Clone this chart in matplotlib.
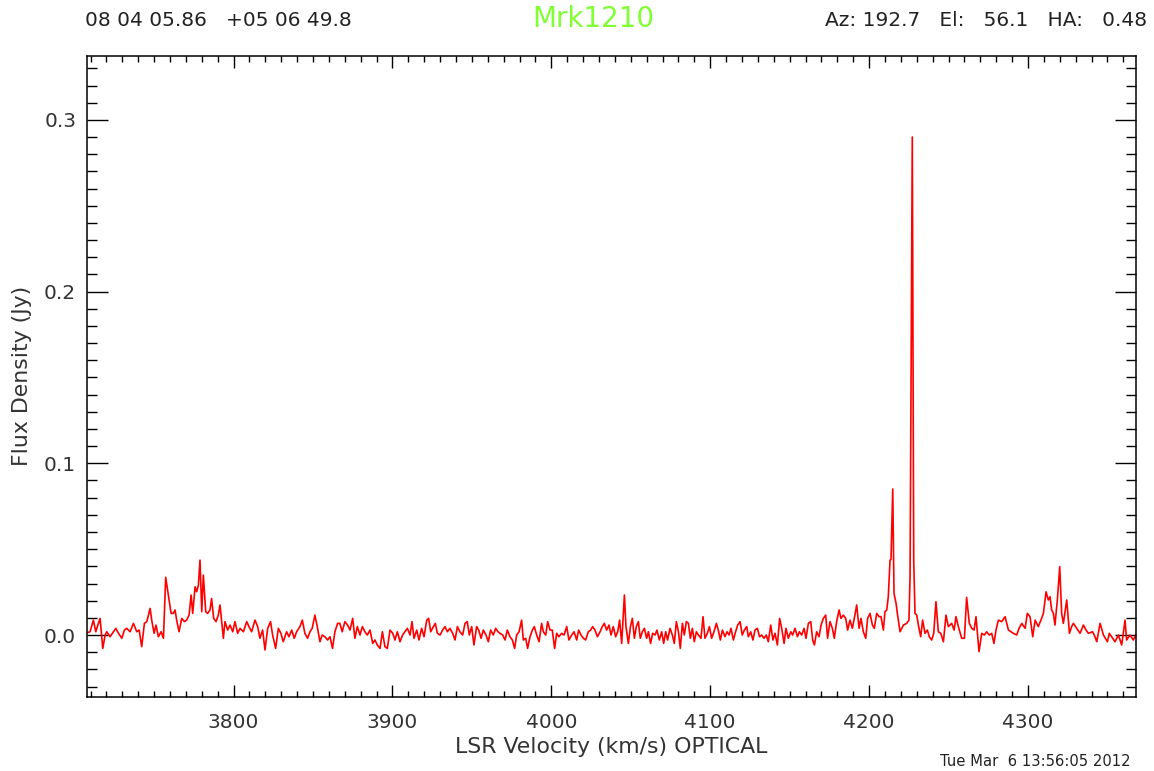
import numpy as np
import matplotlib.pyplot as plt
from matplotlib.ticker import MultipleLocator

# spectrum: LSR velocity (km/s) and flux density (mJy)
velocity = [
    3706.6, 3709.7, 3711.8, 3713.3, 3714.6, 3716.0, 3717.7, 3719.2, 3720.2, 3722.3,
    3724.4, 3725.9, 3727.6, 3729.7, 3731.3, 3732.8, 3734.9, 3737.0, 3739.1, 3740.6,
    3742.2, 3743.9, 3745.4, 3747.5, 3748.5, 3750.0, 3751.2, 3752.7, 3754.4, 3755.9,
    3757.3, 3759.4, 3760.7, 3762.1, 3763.2, 3764.2, 3765.7, 3767.4, 3769.1, 3770.5,
    3772.0, 3773.3, 3774.3, 3775.8, 3776.8, 3777.9, 3778.9, 3780.0, 3781.0, 3782.5,
    3783.7, 3785.2, 3786.2, 3787.5, 3789.0, 3790.4, 3791.5, 3793.6, 3794.6, 3796.3,
    3797.8, 3799.5, 3800.9, 3802.6, 3804.1, 3806.2, 3808.3, 3809.7, 3811.4, 3813.5,
    3815.2, 3816.6, 3818.3, 3819.8, 3821.5, 3823.3, 3824.6, 3826.5, 3828.2, 3829.8,
    3831.3, 3833.4, 3834.9, 3836.6, 3838.2, 3839.7, 3841.8, 3843.3, 3844.9, 3846.6,
    3848.1, 3849.5, 3851.2, 3852.7, 3854.4, 3855.8, 3857.5, 3859.2, 3860.7, 3862.3,
    3863.8, 3865.5, 3866.9, 3868.4, 3870.1, 3871.8, 3873.3, 3875.0, 3876.4, 3877.9,
    3879.6, 3881.1, 3882.7, 3884.2, 3885.9, 3887.6, 3889.0, 3890.5, 3892.2, 3893.7,
    3895.3, 3896.8, 3898.5, 3900.2, 3901.6, 3903.1, 3904.8, 3906.4, 3907.9, 3909.4,
    3911.1, 3912.3, 3913.6, 3915.3, 3916.7, 3918.4, 3919.9, 3921.6, 3922.8, 3924.1,
    3925.8, 3927.0, 3928.3, 3930.0, 3931.6, 3933.1, 3934.6, 3936.2, 3937.9, 3939.4,
    3940.9, 3942.5, 3944.2, 3945.7, 3947.1, 3948.4, 3949.9, 3951.3, 3953.0, 3954.3,
    3955.8, 3957.2, 3958.9, 3960.4, 3961.8, 3963.5, 3965.0, 3966.5, 3967.7, 3969.4,
    3970.9, 3972.3, 3974.0, 3975.5, 3976.9, 3978.2, 3979.7, 3981.3, 3982.4, 3983.9,
    3985.1, 3986.6, 3988.1, 3989.3, 3990.8, 3992.3, 3993.9, 3995.0, 3996.5, 3997.7,
    3999.2, 4000.6, 4002.1, 4003.4, 4004.8, 4006.5, 4008.0, 4009.7, 4011.1, 4012.8,
    4014.3, 4016.0, 4017.2, 4018.7, 4020.2, 4021.6, 4023.3, 4024.8, 4026.0, 4027.5,
    4029.0, 4030.7, 4032.1, 4033.4, 4034.8, 4036.3, 4037.6, 4039.0, 4040.5, 4041.8,
    4043.0, 4044.3, 4046.0, 4047.0, 4048.5, 4049.8, 4051.0, 4052.3, 4053.5, 4054.8,
    4056.0, 4057.3, 4058.6, 4060.0, 4061.1, 4062.5, 4063.8, 4065.3, 4066.5, 4068.0,
    4069.5, 4070.7, 4072.0, 4073.2, 4074.7, 4076.2, 4077.4, 4078.7, 4080.0, 4081.2,
    4082.5, 4083.7, 4085.0, 4086.3, 4087.5, 4088.8, 4090.0, 4091.3, 4092.6, 4094.2,
    4095.5, 4096.7, 4098.2, 4099.5, 4100.9, 4102.4, 4103.9, 4105.1, 4106.4, 4107.7,
    4109.3, 4110.6, 4111.9, 4113.1, 4114.6, 4116.0, 4117.3, 4118.8, 4120.2, 4121.5,
    4123.0, 4124.0, 4125.5, 4126.9, 4128.2, 4129.7, 4131.1, 4132.4, 4133.9, 4135.3,
    4136.6, 4138.1, 4139.5, 4140.8, 4142.3, 4143.7, 4145.0, 4146.5, 4147.7, 4149.2,
    4150.7, 4151.9, 4153.4, 4154.9, 4156.1, 4157.6, 4159.1, 4160.3, 4161.8, 4163.3,
    4164.5, 4165.6, 4167.0, 4168.5, 4169.8, 4171.2, 4172.7, 4173.9, 4175.4, 4176.9,
    4178.1, 4179.6, 4181.1, 4182.3, 4183.8, 4185.3, 4186.5, 4188.0, 4189.5, 4190.7,
    4192.2, 4193.7, 4194.9, 4196.4, 4197.9, 4199.1, 4200.6, 4202.1, 4203.3, 4204.8,
    4206.3, 4207.5, 4209.0, 4210.0, 4211.1, 4212.1, 4213.2, 4213.8, 4214.9, 4215.7,
    4217.0, 4217.8, 4219.5, 4221.6, 4223.7, 4225.1, 4225.8, 4227.2, 4228.1, 4228.9,
    4230.0, 4231.2, 4232.5, 4233.7, 4235.2, 4236.7, 4237.9, 4239.4, 4240.7, 4242.1,
    4243.6, 4245.1, 4246.8, 4248.4, 4249.9, 4252.0, 4253.5, 4254.7, 4256.2, 4258.3,
    4260.0, 4261.4, 4263.1, 4264.6, 4266.1, 4267.3, 4269.2, 4270.9, 4272.6, 4274.0,
    4275.7, 4277.2, 4278.6, 4279.9, 4281.4, 4283.5, 4285.6, 4287.7, 4289.3, 4290.8,
    4292.9, 4294.4, 4296.1, 4298.2, 4299.6, 4301.3, 4303.0, 4304.5, 4306.5, 4308.6,
    4309.7, 4311.4, 4312.8, 4313.9, 4314.9, 4316.0, 4317.0, 4318.5, 4320.0, 4321.2,
    4322.3, 4324.4, 4326.1, 4327.5, 4328.6, 4330.7, 4332.8, 4334.9, 4336.6, 4338.0,
    4340.7, 4342.2, 4343.3, 4345.4, 4347.5, 4350.0, 4351.2, 4352.7, 4354.8, 4356.9,
    4359.0, 4361.1, 4362.1, 4364.2, 4366.3, 4368.4,
]

flux_mjy = [
    1.0, 1.9, 8.7, 1.9, 5.8, 9.7, -7.8, 0.0, 1.9, -1.0,
    1.9, 3.9, 1.0, -1.9, 2.9, 3.9, 1.9, 6.8, 1.9, 2.9,
    -6.8, 6.8, 7.8, 15.5, 8.7, 1.0, 5.8, -1.0, 1.9, -1.9,
    33.6, 20.4, 12.6, 12.6, 14.6, 8.7, 1.9, 9.7, 7.8, 8.7,
    11.6, 23.3, 12.6, 28.1, 25.2, 29.1, 43.6, 13.6, 34.9, 13.6,
    12.6, 14.6, 21.3, 9.7, 7.8, 11.6, 17.5, -1.9, 7.8, 2.9,
    5.8, 1.9, 7.8, 1.0, 3.9, 1.9, 7.8, 4.9, 1.9, 8.7,
    4.9, -1.9, 2.9, -8.7, 3.9, 7.8, 0.0, -7.8, 3.9, 1.0,
    -3.9, 1.9, -1.0, 2.9, -1.9, 1.9, 4.9, 8.7, 1.0, -1.9,
    1.9, 3.9, 11.6, 4.9, -3.9, 0.0, -1.0, -2.9, -1.0, -7.8,
    1.9, 6.8, 6.8, 1.9, 7.8, 5.8, 2.9, 9.7, -1.9, 4.9,
    0.0, 4.9, 1.9, 0.0, 2.9, -4.9, -2.9, -5.8, -7.8, 1.9,
    -6.8, -7.8, 2.9, 1.0, -2.9, 1.9, -3.9, 0.0, 1.9, 3.9,
    0.0, 7.8, -1.9, 2.9, -2.9, 3.9, -1.0, 8.7, 9.7, 1.9,
    4.9, 6.8, 1.0, 0.0, 2.9, 4.9, 1.9, 3.9, 1.0, -2.9,
    4.9, 1.9, 0.0, 6.8, 7.8, 0.0, 4.9, -5.8, 4.9, 2.9,
    -1.9, 2.9, 0.0, -3.9, 2.9, 0.0, 3.9, 1.9, 1.0, 0.0,
    -2.9, 2.9, -1.0, -2.9, -7.8, 0.0, 1.9, 8.7, -2.9, -1.9,
    -7.8, -1.0, 2.9, 4.9, 0.0, -3.9, 6.8, 1.9, 0.0, 7.8,
    2.9, 2.9, -7.8, 1.0, -1.0, 1.0, 0.0, 4.9, -2.9, 0.0,
    1.9, -2.9, 2.9, 0.0, -1.9, -2.9, 1.9, 2.9, 4.9, 2.9,
    -1.0, 1.9, 4.9, 6.8, 2.9, 5.8, 0.0, 4.9, -1.0, 1.9,
    8.7, -4.9, 23.3, 4.9, -4.9, 4.9, 9.7, -1.9, 4.9, 7.8,
    -1.9, 1.9, 3.9, -1.9, 1.9, -4.9, 1.0, 0.0, 2.9, -2.9,
    1.9, -4.9, 1.9, -2.9, 3.9, 0.0, -4.9, 7.8, 1.9, -7.8,
    6.8, 0.0, 7.8, 6.8, -1.9, 3.9, -3.9, 1.9, 0.0, -1.9,
    10.7, -1.9, 1.0, 4.9, -1.9, 1.9, 6.8, 2.9, -2.9, 2.9,
    -1.0, 1.9, 0.0, 3.9, -2.9, 1.9, 5.8, 7.8, 0.0, 2.9,
    4.9, -1.0, 1.9, -2.9, 2.9, 3.9, -1.0, 0.0, -1.9, 0.0,
    -3.9, 5.8, -2.9, 1.0, -5.8, 9.7, 3.9, -4.9, 3.9, -1.9,
    1.9, 0.0, 3.9, -1.0, 1.9, 0.0, 3.9, -1.9, 6.8, 7.8,
    -2.9, -5.8, 1.9, -1.0, 5.8, 9.7, 11.6, -1.9, 7.8, 3.9,
    -1.9, 7.8, 14.6, 9.7, 11.6, 9.7, 2.9, 8.7, 3.9, 9.7,
    17.5, 3.9, 9.7, 1.9, -1.9, 9.7, 12.6, 5.8, 3.9, 12.6,
    10.7, 10.7, 2.9, 13.6, 14.6, 22.3, 43.6, 44.0, 85.0, 24.3,
    18.4, 12.6, 1.9, 5.8, 6.8, 8.7, 34.0, 290.0, 43.6, 12.6,
    11.6, 4.9, -1.0, 8.7, 1.0, 2.9, -1.0, -2.9, 1.0, 19.4,
    1.9, 1.0, -3.9, 11.6, 4.9, 6.8, 2.9, 10.7, 4.9, -1.9,
    -1.9, 21.9, 6.8, 3.9, 2.9, 10.7, -9.7, 1.0, 0.0, 1.9,
    0.0, 1.0, -4.9, 2.9, 8.7, 7.8, 10.7, 2.9, 1.9, 1.0,
    0.0, 3.9, 6.8, 3.9, 12.6, 10.7, -1.0, 8.7, 4.9, 9.7,
    12.6, 25.2, 20.4, 22.3, 14.6, 12.6, 5.8, 20.4, 39.8, 12.6,
    6.8, 20.4, 1.0, 4.9, 6.8, 3.9, 1.0, 5.8, 2.9, 1.0,
    1.9, -1.0, -3.9, 6.8, 0.0, -3.9, 1.0, -1.0, -3.9, 0.0,
    -5.8, 8.7, -2.9, 0.0, -2.9, 1.0,
]

source = "Mrk1210"
position = "08 04 05.86   +05 06 49.8"
pointing = "Az: 192.7   El:   56.1   HA:   0.48"
stamp = "Tue Mar  6 13:56:05 2012"

v = np.array(velocity)
flux = np.array(flux_mjy) / 1000.0   # Jy

plt.rcParams['font.family'] = ['DejaVu Sans']

fig = plt.figure(figsize=(11.54, 7.71), dpi=100)
ax = fig.add_axes([0.0757, 0.0964, 0.9087, 0.8314])

ax.plot(v, flux, color='#ff0000', lw=1.2)

ax.set_xlim(3708, 4368)
ax.set_ylim(-0.0359, 0.3374)

ax.xaxis.set_major_locator(MultipleLocator(100))
ax.xaxis.set_minor_locator(MultipleLocator(10))
ax.yaxis.set_major_locator(MultipleLocator(0.1))
ax.yaxis.set_minor_locator(MultipleLocator(0.01))
ax.yaxis.set_major_formatter(plt.FormatStrFormatter('%.1f'))

for s in ax.spines.values():
    s.set_linewidth(1.1)
ax.tick_params(which='both', direction='in', top=True, right=True,
               width=1.0, labelsize=14.5, colors='black')
ax.tick_params(axis='x', which='major', length=8.6, pad=12)
ax.tick_params(axis='x', which='minor', length=4.3)
ax.tick_params(axis='y', which='major', length=15, pad=8)
ax.tick_params(axis='y', which='minor', length=7.5)
for lab in ax.get_xticklabels() + ax.get_yticklabels():
    lab.set_color('#333333')

ax.set_xlabel('LSR Velocity (km/s) OPTICAL', fontsize=15.8, color='#333333', labelpad=3)
ax.set_ylabel('Flux Density (Jy)', fontsize=15.8, color='#333333', labelpad=9)

fig.text(85 / 1154, 1 - 20 / 771, position, fontsize=14.5, color='#222222',
         ha='left', va='center')
fig.text(593 / 1154, 1 - 19 / 771, source, fontsize=20, color='#80ff33',
         ha='center', va='center')
fig.text(1147 / 1154, 1 - 20 / 771, pointing, fontsize=14.5, color='#222222',
         ha='right', va='center')
fig.text(1131 / 1154, 1 - 762 / 771, stamp, fontsize=10.6, color='#222222',
         ha='right', va='center')

fig.savefig('out.png', dpi=100, facecolor='white')
